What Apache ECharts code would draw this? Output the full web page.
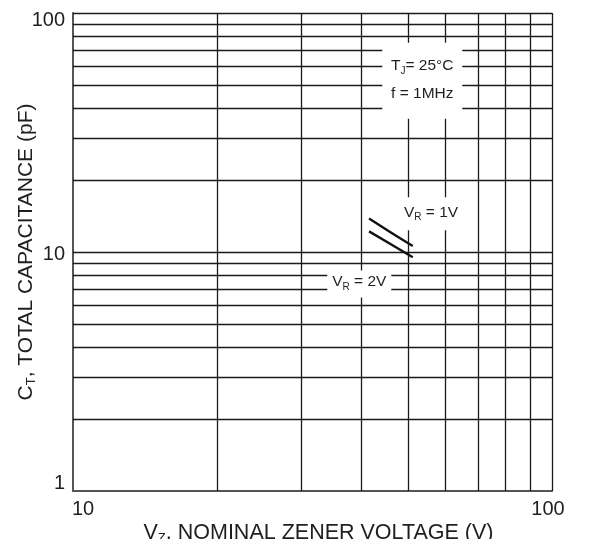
<!DOCTYPE html>
<html><head><meta charset="utf-8">
<script src="https://cdn.jsdelivr.net/npm/echarts@6/dist/echarts.min.js"></script>
<style>html,body{margin:0;padding:0;background:#fff}#c{width:597px;height:539px}</style>
</head><body><div id="c"></div>
<script>
// ---- data ----
const xTickLabels = [10, 100];
const yTickLabels = [1, 10, 100];
const xGridValues = [20, 30, 40, 50, 60, 70, 80, 90, 100];
const yGridValues = [2, 3, 4, 5, 6, 7, 8, 9, 10, 20, 30, 40, 50, 60, 70, 80, 90, 100];
const vz = [41.5, 46, 51.2];           // V_Z (V)
const ctVr1 = [13.8, 12.1, 10.6];      // C_T (pF) at V_R = 1V
const ctVr2 = [12.2, 10.8, 9.5];       // C_T (pF) at V_R = 2V
const seriesNames = ['VR = 1V', 'VR = 2V'];

// ---- styling ----
const FONT = '"Liberation Sans", Arial, Helvetica, sans-serif';
const TXT = '#1f1f1f';
const GRID = '#1a1a1a';

const chart = echarts.init(document.getElementById('c'), null, {renderer: 'canvas'});

const option = {
  animation: false,
  backgroundColor: '#ffffff',
  grid: {left: 73, right: 45, top: 13, bottom: 48, containLabel: false, outerBoundsMode: 'none'},
  xAxis: {
    type: 'log', logBase: 10, min: xTickLabels[0], max: xTickLabels[xTickLabels.length - 1],
    name: 'V{sub|Z}, NOMINAL ZENER VOLTAGE (V)',
    nameLocation: 'middle', nameGap: 30, nameMoveOverlap: false,
    nameTextStyle: {
      fontFamily: FONT, fontSize: 21.5, color: TXT, lineHeight: 24, padding: [0, 0, 0, 12],
      rich: {sub: {fontFamily: FONT, fontSize: 13, color: TXT, verticalAlign: 'bottom', lineHeight: 24}}
    },
    axisLine: {show: true, lineStyle: {color: '#555555', width: 2}},
    axisTick: {show: false},
    splitLine: {show: false},
    axisLabel: {
      margin: 8, fontFamily: FONT, fontSize: 20, color: TXT,
      formatter: function (v) {
        const r = Math.round(v);
        return r === xTickLabels[0] ? '{lo|' + r + '}' : '{hi|' + r + '}';
      },
      rich: {
        lo: {fontFamily: FONT, fontSize: 20, color: TXT, padding: [0, 0, 0, 20]},
        hi: {fontFamily: FONT, fontSize: 20, color: TXT, padding: [0, 8, 0, 0]}
      }
    }
  },
  yAxis: {
    type: 'log', logBase: 10, min: yTickLabels[0], max: yTickLabels[yTickLabels.length - 1],
    name: 'C{sub|T}, TOTAL CAPACITANCE (pF)',
    nameLocation: 'middle', nameGap: 35, nameMoveOverlap: false,
    nameTextStyle: {
      fontFamily: FONT, fontSize: 21, color: TXT, lineHeight: 24,
      rich: {sub: {fontFamily: FONT, fontSize: 13, color: TXT, verticalAlign: 'bottom', lineHeight: 24}}
    },
    axisLine: {show: true, lineStyle: {color: '#555555', width: 2}},
    axisTick: {show: false},
    splitLine: {show: false},
    axisLabel: {
      margin: 8, fontFamily: FONT, fontSize: 20, color: TXT,
      formatter: function (v) {
        const r = Math.round(v);
        if (r === yTickLabels[yTickLabels.length - 1]) return '{top|' + r + '}';
        if (r === yTickLabels[0]) return '{bot|' + r + '}';
        return '{mid|' + r + '}';
      },
      rich: {
        top: {fontFamily: FONT, fontSize: 20, color: TXT, padding: [14, 0, 0, 0]},
        mid: {fontFamily: FONT, fontSize: 20, color: TXT, padding: [5, 0, 0, 0]},
        bot: {fontFamily: FONT, fontSize: 20, color: TXT, padding: [0, 0, 16, 0]}
      }
    }
  },
  series: [
    {
      name: 'grid', type: 'line', data: [], clip: false, silent: true, z: 1,
      markLine: {
        silent: true, animation: false, symbol: ['none', 'none'],
        label: {show: false},
        lineStyle: {color: GRID, width: 1.3, type: 'solid'},
        emphasis: {disabled: true},
        data: xGridValues.map(v => ({xAxis: v})).concat(yGridValues.map(v => ({yAxis: v})))
      }
    },
    {
      name: seriesNames[0], type: 'line', smooth: true, showSymbol: false, symbol: 'none', z: 100,
      lineStyle: {color: '#111', width: 2.4},
      data: vz.map((x, i) => [x, ctVr1[i]])
    },
    {
      name: seriesNames[1], type: 'line', smooth: true, showSymbol: false, symbol: 'none', z: 100,
      lineStyle: {color: '#111', width: 2.4},
      data: vz.map((x, i) => [x, ctVr2[i]])
    }
  ]
};
chart.setOption(option);

// ---- annotation boxes, anchored in data coordinates ----
function px(x, y) { return chart.convertToPixel({gridIndex: 0}, [x, y]); }
const subRich = {sub: {fontFamily: FONT, fontSize: 10, fill: TXT, verticalAlign: 'bottom', lineHeight: 20}};
function label(p, text) {
  return {
    type: 'text', x: p[0], y: p[1], z: 60, silent: true,
    style: {text: text, fontFamily: FONT, fontSize: 15.5, fill: TXT, align: 'center', verticalAlign: 'middle', lineHeight: 20, rich: subRich}
  };
}
function box(cx, cy, w, h) {
  return {type: 'rect', z: 50, silent: true, shape: {x: cx - w / 2, y: cy - h / 2, width: w, height: h}, style: {fill: '#ffffff'}};
}
const pTj = px(53.6, 60), pF = px(53.6, 46);
const pV1 = px(55.9, 14.6), pV2 = px(39.6, 7.49);
chart.setOption({
  graphic: [
    box(pTj[0], (pTj[1] + pF[1]) / 2 + 1, 80, 76),
    label(pTj, 'T{sub|J}= 25°C'),
    label(pF, 'f = 1MHz'),
    box(pV1[0] + 1, pV1[1] + 1, 64, 33),
    label(pV1, 'V{sub|R} = 1V'),
    box(pV2[0], pV2[1] + 2, 64, 27),
    label(pV2, 'V{sub|R} = 2V')
  ]
});
</script>
</body></html>
